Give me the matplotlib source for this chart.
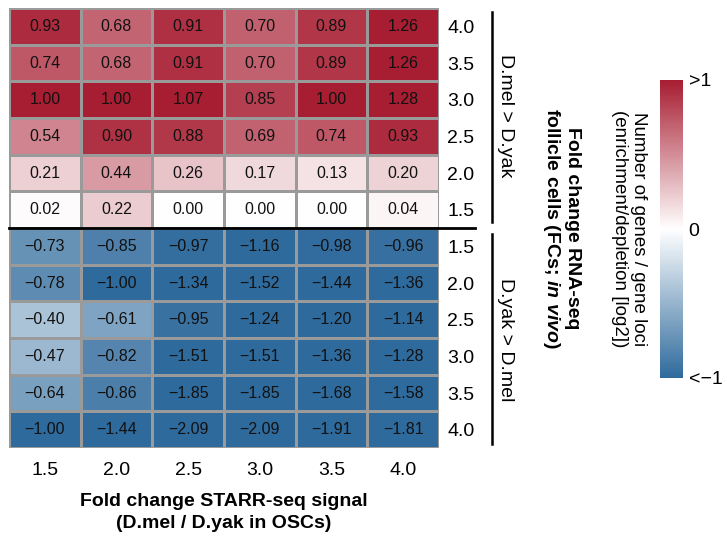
import numpy as np
import matplotlib
matplotlib.use('Agg')
import matplotlib.pyplot as plt
from matplotlib.colors import LinearSegmentedColormap

plt.rcParams['font.family'] = ['Liberation Sans', 'DejaVu Sans']
plt.rcParams['mathtext.fontset'] = 'custom'
plt.rcParams['mathtext.it'] = 'Liberation Sans:italic:bold'
plt.rcParams['mathtext.rm'] = 'Liberation Sans:bold'

# STARR-seq fold change (columns)
starr_fc = ['1.5', '2.0', '2.5', '3.0', '3.5', '4.0']
# RNA-seq fold change (rows, top to bottom)
rna_fc = ['4.0', '3.5', '3.0', '2.5', '2.0', '1.5',
          '1.5', '2.0', '2.5', '3.0', '3.5', '4.0']

mel_up = [
    [0.93, 0.68, 0.91, 0.70, 0.89, 1.26],
    [0.74, 0.68, 0.91, 0.70, 0.89, 1.26],
    [1.00, 1.00, 1.07, 0.85, 1.00, 1.28],
    [0.54, 0.90, 0.88, 0.69, 0.74, 0.93],
    [0.21, 0.44, 0.26, 0.17, 0.13, 0.20],
    [0.02, 0.22, 0.00, 0.00, 0.00, 0.04],
]
yak_up = [
    [-0.73, -0.85, -0.97, -1.16, -0.98, -0.96],
    [-0.78, -1.00, -1.34, -1.52, -1.44, -1.36],
    [-0.40, -0.61, -0.95, -1.24, -1.20, -1.14],
    [-0.47, -0.82, -1.51, -1.51, -1.36, -1.28],
    [-0.64, -0.86, -1.85, -1.85, -1.68, -1.58],
    [-1.00, -1.44, -2.09, -2.09, -1.91, -1.81],
]

values = np.array(mel_up + yak_up)
cmap = LinearSegmentedColormap.from_list('rb', ['#2F6A9C', '#FFFFFF', '#A71D31'])

fig = plt.figure(figsize=(7.27, 5.48), dpi=100)
ax = fig.add_axes([9 / 727, 1 - 448 / 548, 430 / 727, 440 / 548])

nrow, ncol = values.shape
mesh = ax.pcolormesh(np.arange(ncol + 1), np.arange(nrow + 1), values,
                     cmap=cmap, vmin=-1, vmax=1, edgecolor='#9a9a9a', linewidth=1)
ax.set_xlim(0, ncol)
ax.set_ylim(nrow, 0)

for i in range(nrow):
    for j in range(ncol):
        ax.text(j + 0.5, i + 0.5, f'{values[i, j]:.2f}'.replace('-', '\u2212'),
                ha='center', va='center', fontsize=11.5, color='#111111')

for s in ax.spines.values():
    s.set_visible(False)
ax.tick_params(length=0, labelsize=14)
ax.set_xticks(np.arange(ncol) + 0.5)
ax.set_xticklabels(starr_fc)
ax.tick_params(axis='x', pad=10)
ax.yaxis.tick_right()
ax.set_yticks(np.arange(nrow) + 0.5)
ax.set_yticklabels(rna_fc)
ax.tick_params(axis='y', pad=6)

# separator between the two halves
ax.plot([0, 6.5], [6, 6], color='black', lw=2, clip_on=False)
ax.plot([6.74, 6.74], [0.1, 5.85], color='black', lw=1.8, clip_on=False)
ax.plot([6.74, 6.74], [6.15, 11.9], color='black', lw=1.8, clip_on=False)
ax.text(6.93, 2.95, 'D.mel > D.yak', rotation=-90, ha='center', va='center', fontsize=14)
ax.text(6.93, 9.05, 'D.yak > D.mel', rotation=-90, ha='center', va='center', fontsize=14)

fig.text(561 / 727, 1 - 228 / 548,
         'Fold change RNA-seq\nfollicle cells (FCs; $\\mathit{in\\ vivo}$)',
         rotation=-90, ha='center', va='center', fontsize=14,
         fontweight='bold', linespacing=1.1)

ax.set_xlabel('Fold change STARR-seq signal\n(D.mel / D.yak in OSCs)',
              fontsize=14, fontweight='bold', labelpad=10, linespacing=1.4)

cax = fig.add_axes([660 / 727, 1 - 378 / 548, 23 / 727, 298 / 548])
cb = fig.colorbar(mesh, cax=cax)
cb.outline.set_visible(False)
cb.set_ticks([-1, 0, 1])
cb.set_ticklabels(['<\u22121', '0', '>1'])
cax.tick_params(length=0, labelsize=14, pad=4)
fig.text(629 / 727, 1 - 229 / 548,
         'Number of genes / gene loci\n(enrichment/depletion [log2])',
         rotation=-90, ha='center', va='center', fontsize=13.5, linespacing=1.15)

fig.savefig('out.png', dpi=100)
